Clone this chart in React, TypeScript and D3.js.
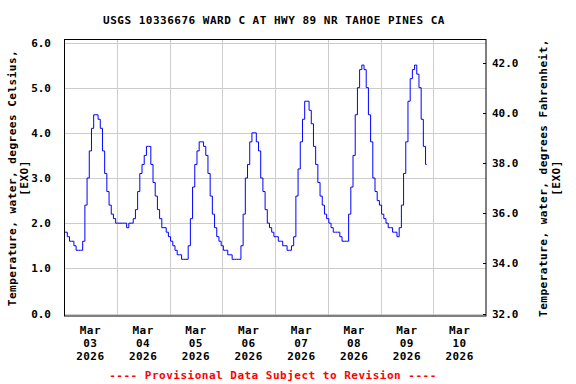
import React from 'react';
import * as d3 from 'd3';

// Hourly water temperature readings (deg C), starting Mar 03 2026 00:00
const tempC = [
  1.8, 1.8, 1.7, 1.6, 1.6, 1.5, 1.4, 1.4, 1.4, 1.6, 2.4, 3.0, 3.6, 4.1, 4.4, 4.4,
  4.3, 4.1, 3.6, 3.1, 2.7, 2.4, 2.2, 2.1, 2.0, 2.0, 2.0, 2.0, 2.0, 1.9, 2.0, 2.0,
  2.1, 2.3, 2.7, 3.1, 3.3, 3.5, 3.7, 3.7, 3.3, 2.9, 2.6, 2.3, 2.1, 1.9, 1.9, 1.8,
  1.7, 1.6, 1.5, 1.4, 1.3, 1.3, 1.2, 1.2, 1.2, 1.5, 2.1, 2.8, 3.3, 3.6, 3.8, 3.8,
  3.7, 3.5, 3.1, 2.6, 2.2, 1.9, 1.7, 1.6, 1.5, 1.4, 1.4, 1.3, 1.3, 1.2, 1.2, 1.2,
  1.2, 1.5, 2.2, 3.0, 3.3, 3.8, 4.0, 4.0, 3.8, 3.6, 3.0, 2.7, 2.3, 2.0, 1.9, 1.8,
  1.7, 1.7, 1.6, 1.6, 1.5, 1.5, 1.4, 1.4, 1.5, 1.7, 2.6, 3.2, 3.8, 4.3, 4.7, 4.7,
  4.5, 4.2, 3.7, 3.3, 2.9, 2.6, 2.4, 2.2, 2.1, 2.0, 1.9, 1.8, 1.8, 1.8, 1.7, 1.6,
  1.6, 1.6, 2.2, 2.8, 3.5, 4.4, 5.0, 5.4, 5.5, 5.4, 5.0, 4.4, 3.8, 3.0, 2.7, 2.5,
  2.4, 2.2, 2.1, 2.0, 1.9, 1.9, 1.8, 1.8, 1.7, 1.9, 2.4, 3.1, 3.8, 4.7, 5.2, 5.4,
  5.5, 5.3, 5.0, 4.3, 3.7, 3.3
];

const celsiusTicks = [0, 1, 2, 3, 4, 5, 6];
const fahrenheitTicks = [32, 34, 36, 38, 40, 42];
const dayLabels = ['03', '04', '05', '06', '07', '08', '09', '10'];
const monthLabel = 'Mar';
const yearLabel = '2026';

const title = 'USGS 10336676 WARD C AT HWY 89 NR TAHOE PINES CA';
const leftTitle = ['Temperature, water, degrees Celsius,', '[EXO]'];
const rightTitle = ['Temperature, water, degrees Fahrenheit,', '[EXO]'];
const footer = '---- Provisional Data Subject to Revision ----';

const W = 576;
const H = 384;
const left = 64;
const right = 486;
const top = 39.5;
const bottom = 316;

const font = "'DejaVu Sans Mono', monospace";

export default function App() {
  const start = new Date(2026, 2, 3);
  const end = new Date(2026, 2, 11);
  const x = d3.scaleTime().domain([start, end]).range([left, right]);
  const y = d3.scaleLinear().domain([0, 6]).range([313.5, 42.5]);
  const yF = (f: number) => y((f - 32) / 1.8);

  const points = tempC.map((v, i) => ({ t: d3.timeHour.offset(start, i), v }));
  const line = d3.line<{ t: Date; v: number }>()
    .x(d => x(d.t))
    .y(d => y(d.v))
    .curve(d3.curveStep);

  const days = d3.timeDay.range(start, end);
  const gridDays = days.slice(1);

  const txt = { fontFamily: font, fontWeight: 'bold' as const, fontSize: 11, letterSpacing: 0.5 };

  return (
    <svg width={W} height={H} style={{ position: 'absolute', left: 0, top: 0, background: '#fff' }}>
      <rect x={0} y={0} width={W} height={H} fill="#fff" />

      {/* grid */}
      {celsiusTicks.map(t => (
        <line key={'h' + t} x1={left} x2={right} y1={Math.round(y(t)) + 0.5} y2={Math.round(y(t)) + 0.5}
          stroke="#cccccc" strokeWidth={1} />
      ))}
      {gridDays.map(d => (
        <line key={'v' + d.getTime()} x1={Math.round(x(d)) + 0.5} x2={Math.round(x(d)) + 0.5}
          y1={top} y2={bottom} stroke="#cccccc" strokeWidth={1} />
      ))}

      {/* data */}
      <path d={line(points) || ''} fill="none" stroke="#0000ff" strokeWidth={1} />

      {/* frame */}
      <rect x={left + 0.5} y={top} width={right - left - 0.5} height={bottom - top}
        fill="none" stroke="#000" strokeWidth={1} />

      {/* left axis labels */}
      {celsiusTicks.map(t => (
        <text key={'lc' + t} x={51} y={y(t) + 4} textAnchor="end" {...txt} letterSpacing={0}>
          {d3.format('.1f')(t)}
        </text>
      ))}

      {/* right axis ticks + labels */}
      {fahrenheitTicks.map(f => (
        <g key={'rf' + f}>
          <line x1={right - 3} x2={right} y1={Math.round(yF(f)) + 0.5} y2={Math.round(yF(f)) + 0.5}
            stroke="#000" strokeWidth={1} />
          <text x={492} y={yF(f) + 4} textAnchor="start" {...txt} letterSpacing={0}>
            {d3.format('.1f')(f)}
          </text>
        </g>
      ))}

      {/* bottom date labels */}
      {days.map((d, i) => {
        const cx = x(d3.timeHour.offset(d, 12));
        return (
          <g key={'d' + i}>
            <text x={cx} y={334} textAnchor="middle" {...txt}>{monthLabel}</text>
            <text x={cx} y={347} textAnchor="middle" {...txt}>{dayLabels[i]}</text>
            <text x={cx} y={360} textAnchor="middle" {...txt}>{yearLabel}</text>
          </g>
        );
      })}

      {/* titles */}
      <text x={274} y={24} textAnchor="middle" {...txt}>{title}</text>
      <text x={273} y={378.5} textAnchor="middle" {...txt} fill="#ff0000">{footer}</text>

      <text transform="translate(16,178) rotate(-90)" textAnchor="middle" {...txt}>{leftTitle[0]}</text>
      <text transform="translate(28,178) rotate(-90)" textAnchor="middle" {...txt}>{leftTitle[1]}</text>
      <text transform="translate(547,178) rotate(-90)" textAnchor="middle" {...txt}>{rightTitle[0]}</text>
      <text transform="translate(560,178) rotate(-90)" textAnchor="middle" {...txt}>{rightTitle[1]}</text>
    </svg>
  );
}
